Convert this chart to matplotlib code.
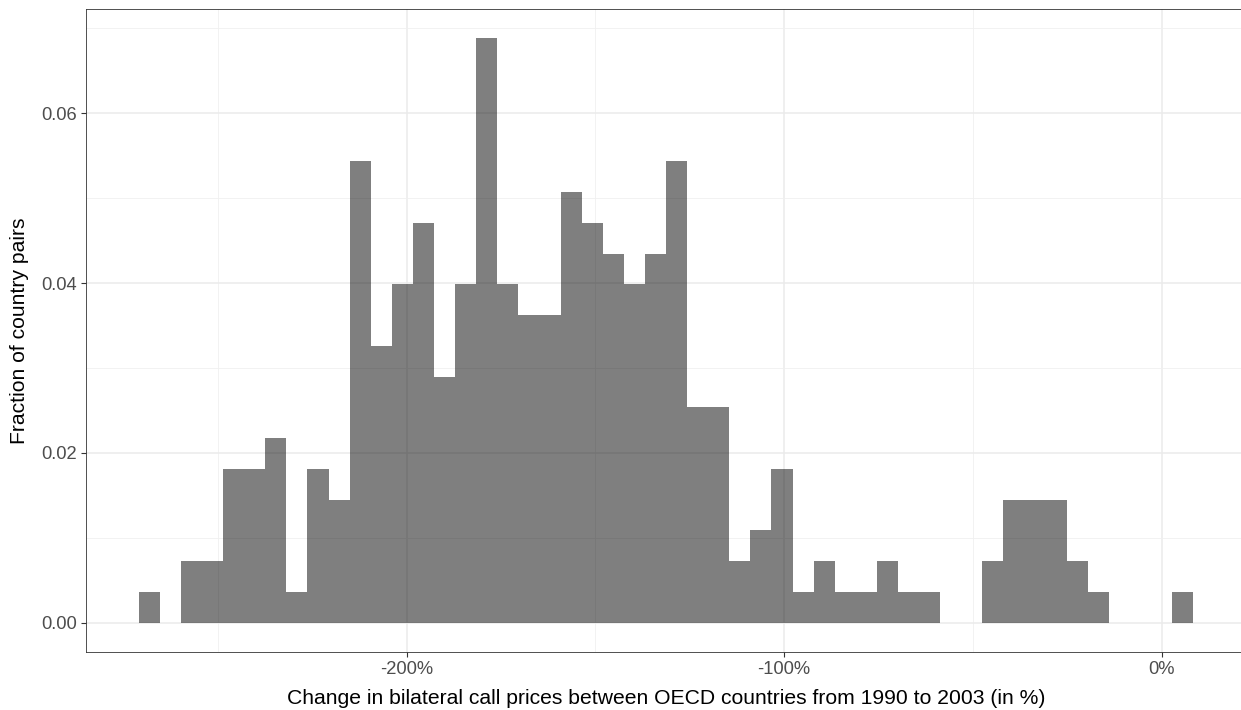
import numpy as np
import matplotlib
matplotlib.use("Agg")
import matplotlib.pyplot as plt

# ---- data ----
bin_counts = [1, 0, 2, 2, 5, 5, 6, 1, 5, 4,
              15, 9, 11, 13, 8, 11, 19, 11, 10, 10,
              14, 13, 12, 11, 12, 15, 7, 7, 2, 3,
              5, 1, 2, 1, 1, 2, 1, 1, 0, 0,
              2, 4, 4, 4, 2, 1, 0, 0, 0, 1]
n_pairs = 276
first_edge = -270.95   # percent
bin_width = 5.586      # percent
x_ticks = [-200, -100, 0]
x_tick_labels = ["-200%", "-100%", "0%"]
x_minor = [-250, -150, -50]
y_ticks = [0.00, 0.02, 0.04, 0.06]
y_tick_labels = ["0.00", "0.02", "0.04", "0.06"]
y_minor = [0.01, 0.03, 0.05, 0.07]
x_title = "Change in bilateral call prices between OECD countries from 1990 to 2003 (in %)"
y_title = "Fraction of country pairs"

plt.rcParams['font.family'] = ['Liberation Sans', 'DejaVu Sans']

W, H = 1241, 710
fig = plt.figure(figsize=(W / 100, H / 100), dpi=100)
left_px, right_px, top_px, bottom_px = 86, 1246, 9, 652
ax = fig.add_axes([left_px / W, 1 - bottom_px / H, (right_px - left_px) / W, (bottom_px - top_px) / H])

fractions = np.array(bin_counts) / n_pairs
edges = first_edge + bin_width * np.arange(len(bin_counts) + 1)

ax.bar(edges[:-1], fractions, width=bin_width, align='edge',
       color='black', alpha=0.5, linewidth=0, zorder=3)

span = edges[-1] - edges[0]
ax.set_xlim(edges[0] - 0.05 * span, edges[-1] + 0.05 * span)
ymax = fractions.max()
ax.set_ylim(-0.05 * ymax, 1.05 * ymax)

ax.set_xticks(x_ticks)
ax.set_xticklabels(x_tick_labels)
ax.set_xticks(x_minor, minor=True)
ax.set_yticks(y_ticks)
ax.set_yticklabels(y_tick_labels)
ax.set_yticks(y_minor, minor=True)

ax.grid(True, which='major', color='#EBEBEB', linewidth=1.1, zorder=0)
ax.grid(True, which='minor', color='#F0F0F0', linewidth=0.6, zorder=0)
ax.set_axisbelow(True)

ax.tick_params(axis='both', which='major', length=3.5, width=0.8, color='#333333',
               labelsize=13.2, labelcolor='#4D4D4D', pad=3)
ax.tick_params(axis='both', which='minor', length=0)

for s in ax.spines.values():
    s.set_color('#333333')
    s.set_linewidth(0.6)

ax.set_xlabel(x_title, fontsize=15.2, color='black', labelpad=8)
ax.set_ylabel(y_title, fontsize=15.2, color='black', labelpad=9)

fig.savefig("out.png", dpi=100, facecolor='white')
